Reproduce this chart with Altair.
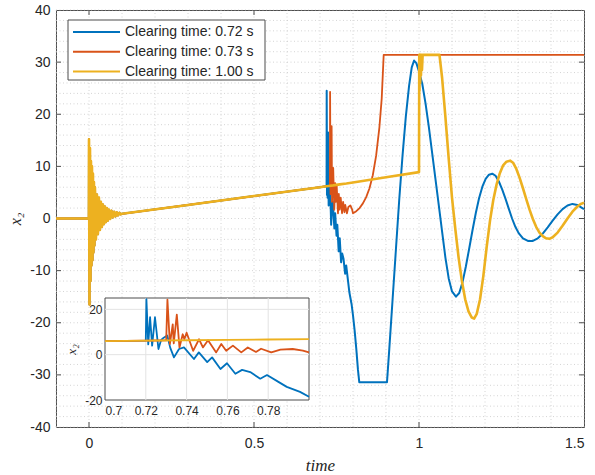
import altair as alt
import pandas as pd

# ---------------- data ----------------
labels = ["Clearing time: 0.72 s", "Clearing time: 0.73 s", "Clearing time: 1.00 s"]
colors = ["#0072BD", "#D95319", "#EDB120"]

# shared trajectory (pre-fault + fault-on), until 0.72 s
t_common = [-0.1, -0.05, -0.0005,
            0.000, 0.0015, 0.003, 0.0045, 0.006, 0.0075, 0.009, 0.0105, 0.012,
            0.0135, 0.015, 0.0165, 0.018, 0.021, 0.024, 0.027, 0.030, 0.033,
            0.036, 0.039, 0.042, 0.045, 0.048, 0.051, 0.054, 0.057, 0.060,
            0.064, 0.068, 0.072, 0.076, 0.080, 0.084, 0.088, 0.092, 0.096,
            0.1, 0.3, 0.5, 0.7, 0.72]
v_common = [0.0, 0.0, 0.0,
            15.2, -16.5, 13.5, -12.0, 11.0, -9.0, 10.0, -8.0, 8.6,
            -6.5, 7.0, -5.2, 6.0, -4.0, 4.6, -3.0, 4.0, -2.2,
            3.2, -1.6, 2.7, -1.1, 2.3, -0.7, 2.0, -0.4, 1.7,
            -0.1, 1.5, 0.2, 1.3, 0.4, 1.2, 0.6, 1.1, 0.8,
            0.9, 2.6, 4.3, 6.0, 6.2]

# clearing at 0.72 s
t_blue = [0.7203, 0.7212, 0.7221, 0.7231, 0.7245, 0.7262, 0.7275, 0.7288, 0.7305,
          0.7320, 0.7338, 0.7363, 0.7387, 0.7436, 0.7460, 0.7501, 0.7525, 0.7566,
          0.7598, 0.7639, 0.7672, 0.7712, 0.7761, 0.7794, 0.7850, 0.7891, 0.7956,
          0.8000, 0.805, 0.810, 0.815, 0.819, 0.903, 0.91, 0.92, 0.93, 0.94, 0.95,
          0.96, 0.97, 0.978, 0.985, 0.992, 1.0, 1.01, 1.02, 1.03, 1.04, 1.05, 1.06,
          1.07, 1.08, 1.09, 1.10, 1.112, 1.122, 1.132, 1.142, 1.152, 1.162, 1.172,
          1.182, 1.192, 1.202, 1.212, 1.222, 1.232, 1.242, 1.252, 1.262, 1.272,
          1.282, 1.292, 1.302, 1.315, 1.33, 1.345, 1.36, 1.375, 1.39, 1.405, 1.42,
          1.435, 1.45, 1.465, 1.48, 1.49, 1.5]
v_blue = [24.5, 4.5, 16.5, 4.0, 16.5, 2.5, 6.5, 7.5, 8.5,
          3.0, -1.2, 2.5, 3.2, -1.9, 1.0, -3.3, -1.2, -6.3,
          -3.8, -8.4, -6.7, -7.7, -10.6, -9.0, -12.0, -14.2, -16.4,
          -18.6, -21.5, -25.0, -29.0, -31.4, -31.4, -25.0, -15.5, -6.0, 3.5, 12.0,
          19.5, 25.5, 29.0, 30.3, 29.8, 28.2, 25.8, 22.0, 17.5, 12.5, 7.5, 2.5,
          -2.5, -7.5, -11.5, -14.0, -15.0, -14.3, -12.2, -9.2, -5.8, -2.3, 1.0,
          3.9, 6.1, 7.6, 8.4, 8.6, 8.2, 7.1, 5.6, 3.8, 1.9,
          0.0, -1.6, -2.8, -3.8, -4.3, -4.3, -3.8, -2.9, -1.7, -0.4, 0.8,
          1.8, 2.5, 2.8, 2.6, 2.2, 1.8]

# clearing at 0.73 s
t_red = [0.725, 0.7300, 0.7306, 0.7318, 0.7332, 0.7337, 0.7352, 0.7365, 0.7381,
         0.7389, 0.7400, 0.7432, 0.7461, 0.7480, 0.7505, 0.7545, 0.7570, 0.7594,
         0.7627, 0.7668, 0.7700, 0.7740, 0.7765, 0.7815, 0.7860, 0.7920, 0.7970,
         0.8000, 0.81, 0.82, 0.83, 0.84, 0.85, 0.86, 0.87, 0.88, 0.887, 0.893, 1.5]
v_red = [6.25, 6.3, 24.3, 4.7, 13.4, 5.0, 17.7, 3.2, 9.0,
         6.8, 9.7, 1.7, 6.8, 3.2, 6.4, 1.0, 4.7, 1.7,
         4.0, 1.0, 3.2, 1.2, 2.6, 1.0, 2.2, 2.5, 1.8,
         1.0, 1.4, 2.0, 2.9, 4.1, 5.8, 8.3, 12.0, 17.5, 23.0, 31.4, 31.4]

# clearing at 1.00 s
t_yel = [0.74, 0.76, 0.78, 0.80, 0.9, 1.0, 1.0008, 1.0015, 1.0025, 1.0035, 1.0045,
         1.006, 1.0075, 1.009, 1.011, 1.062, 1.07, 1.08, 1.09, 1.10, 1.11, 1.12,
         1.13, 1.14, 1.15, 1.16, 1.167, 1.175, 1.185, 1.195, 1.205, 1.215, 1.225,
         1.235, 1.245, 1.255, 1.265, 1.276, 1.285, 1.295, 1.305, 1.315, 1.325,
         1.335, 1.345, 1.355, 1.365, 1.375, 1.385, 1.395, 1.405, 1.42, 1.435,
         1.45, 1.465, 1.48, 1.49, 1.5]
v_yel = [6.35, 6.55, 6.7, 6.9, 7.9, 8.9, 31.4, 24.5, 31.4, 26.0, 31.4,
         27.5, 31.4, 28.5, 31.4, 31.4, 27.0, 19.5, 11.5, 4.0, -2.0, -7.5,
         -12.0, -15.5, -17.8, -19.0, -19.2, -18.3, -15.5, -11.0, -5.5, -0.5, 3.5,
         6.5, 8.7, 10.2, 10.9, 11.1, 10.7, 9.5, 7.8, 5.8, 3.7,
         1.7, -0.1, -1.6, -2.7, -3.4, -3.8, -3.9, -3.6, -2.7, -1.4,
         0.0, 1.3, 2.3, 2.8, 3.0]

x_ticks = [0, 0.5, 1, 1.5]
y_ticks = [-40, -30, -20, -10, 0, 10, 20, 30, 40]
x_minor = [round(-0.1 + 0.1 * i, 2) for i in range(17)]
y_minor = [-40 + 2 * i for i in range(41)]
x_dom = [-0.1, 1.5]
y_dom = [-40, 40]

in_x_ticks = [0.7, 0.72, 0.74, 0.76, 0.78]
in_y_ticks = [-20, 0, 20]
in_x_dom = [0.7, 0.8]
in_y_dom = [-20, 25]

# ---------------- layout ----------------
W, H = 528, 417
PAD_L, PAD_T = 56, 10
IN_L, IN_R, IN_T, IN_B = 105 - PAD_L, 309 - PAD_L, 298 - PAD_T, 400 - PAD_T
FONT = "Liberation Sans"
SERIF = "Liberation Serif"
TXT = "#262626"


def series_df(ts, vs):
    return pd.DataFrame({"t": ts, "v": vs, "i": range(len(ts))})


df_blue = series_df(t_common + t_blue, v_common + v_blue)
df_red = series_df(t_common + t_red, v_common + v_red)
df_yel = series_df(t_common + t_yel, v_common + v_yel)

xs = alt.Scale(domain=x_dom, nice=False, zero=False)
ys = alt.Scale(domain=y_dom, nice=False, zero=False)
x_axis = alt.Axis(values=x_ticks, labelExpr="'' + datum.value", ticks=False, domain=False,
                  grid=False, labelFontSize=14, labelFont=FONT, labelColor=TXT,
                  labelPadding=9, title="time", titleFont=SERIF, titleFontStyle="italic",
                  titleFontWeight="normal", titleFontSize=17, titleColor=TXT, titlePadding=7)
y_axis = alt.Axis(values=y_ticks, labelExpr="'' + datum.value", ticks=False, domain=False,
                  grid=False, labelFontSize=14, labelFont=FONT, labelColor=TXT,
                  labelPadding=6, title="x₂", titleFont=SERIF, titleFontStyle="italic",
                  titleFontWeight="normal", titleFontSize=16, titleColor=TXT, titlePadding=6)
X = alt.X("t:Q", scale=xs, axis=x_axis)
Y = alt.Y("v:Q", scale=ys, axis=y_axis)

grid_style = dict(color="#c9c9c9", strokeWidth=0.8, strokeDash=[1, 2.5])
gx = alt.Chart(pd.DataFrame({"t": x_minor})).mark_rule(**grid_style).encode(
    x=X, y=alt.datum(y_dom[0]), y2=alt.datum(y_dom[1]))
gy = alt.Chart(pd.DataFrame({"v": y_minor})).mark_rule(**grid_style).encode(
    y=Y, x=alt.datum(x_dom[0]), x2=alt.datum(x_dom[1]))

tick_style = dict(color="#4d4d4d", strokeWidth=1)
tx_df = pd.DataFrame({"t": x_ticks[:-1]})
ty_df = pd.DataFrame({"v": y_ticks[1:-1]})
tb = alt.Chart(tx_df).mark_rule(**tick_style).encode(x=X, y=alt.value(H), y2=alt.value(H - 5))
tt = alt.Chart(tx_df).mark_rule(**tick_style).encode(x=X, y=alt.value(0), y2=alt.value(5))
tl = alt.Chart(ty_df).mark_rule(**tick_style).encode(y=Y, x=alt.value(0), x2=alt.value(5))
tr = alt.Chart(ty_df).mark_rule(**tick_style).encode(y=Y, x=alt.value(W), x2=alt.value(W - 5))


def line(df, color, sw, x, y):
    return alt.Chart(df).mark_line(color=color, strokeWidth=sw, strokeJoin="round").encode(
        x=x, y=y, order="i:Q")


main = alt.layer(
    gx, gy, tb, tt, tl, tr,
    line(df_blue, colors[0], 2.0, X, Y),
    line(df_red, colors[1], 1.8, X, Y),
    line(df_yel, colors[2], 2.6, X, Y),
)

# ---------------- inset ----------------
xs_in = alt.Scale(domain=in_x_dom, range=[IN_L, IN_R], nice=False, zero=False)
ys_in = alt.Scale(domain=in_y_dom, range=[IN_B, IN_T], nice=False, zero=False)
xin_axis = alt.Axis(orient="bottom", offset=-(H - IN_B), values=in_x_ticks,
                    labelExpr="'' + datum.value", ticks=False, domain=False, grid=False,
                    labelFontSize=12, labelFont=FONT, labelColor=TXT, labelPadding=5, title=None)
yin_axis = alt.Axis(orient="left", offset=-IN_L, values=in_y_ticks,
                    labelExpr="'' + datum.value", ticks=False, domain=False, grid=False,
                    labelFontSize=12, labelFont=FONT, labelColor=TXT, labelPadding=3,
                    title="x₂", titleFont=SERIF, titleFontStyle="italic",
                    titleFontWeight="normal", titleFontSize=13, titleColor=TXT, titlePadding=6)
XI = alt.X("t:Q", scale=xs_in, axis=xin_axis)
YI = alt.Y("v:Q", scale=ys_in, axis=yin_axis)


def cut(df):
    return df[(df.t >= in_x_dom[0]) & (df.t <= in_x_dom[1])].copy()


bg = alt.Chart(pd.DataFrame({"t": [in_x_dom[0]], "t2": [in_x_dom[1]],
                             "v": [in_y_dom[0]], "v2": [in_y_dom[1]]})).mark_rect(
    fill="white", stroke="#4d4d4d", strokeWidth=1).encode(x=XI, x2="t2:Q", y=YI, y2="v2:Q")
igrid_style = dict(color="#e3e3e3", strokeWidth=1)
igx = alt.Chart(pd.DataFrame({"t": in_x_ticks[1:]})).mark_rule(**igrid_style).encode(
    x=XI, y=alt.datum(in_y_dom[0]), y2=alt.datum(in_y_dom[1]))
igy = alt.Chart(pd.DataFrame({"v": in_y_ticks[1:]})).mark_rule(**igrid_style).encode(
    y=YI, x=alt.datum(in_x_dom[0]), x2=alt.datum(in_x_dom[1]))

inset = alt.layer(
    bg, igx, igy,
    line(cut(df_blue), colors[0], 1.8, XI, YI),
    line(cut(df_red), colors[1], 1.8, XI, YI),
    line(cut(df_yel), colors[2], 1.8, XI, YI),
)

# ---------------- legend ----------------
leg_df = pd.DataFrame({"label": labels})
LY = alt.Y("label:N", scale=alt.Scale(type="point", domain=labels, range=[22, 61.5], padding=0),
           axis=None)
LC = alt.Color("label:N", scale=alt.Scale(domain=labels, range=colors), legend=None)
leg_box = alt.Chart(alt.Data(values=[{"a": 1}])).mark_rect(
    fill="white", stroke="#4d4d4d", strokeWidth=1).encode(
    x=alt.value(12), x2=alt.value(209), y=alt.value(10), y2=alt.value(70))
leg_lines = alt.Chart(leg_df).mark_rule(strokeWidth=2).encode(
    x=alt.value(17), x2=alt.value(64), y=LY, color=LC)
leg_text = alt.Chart(leg_df).mark_text(align="left", baseline="middle", font=FONT,
                                       fontSize=14, color=TXT).encode(
    x=alt.value(69), y=LY, text="label:N")
legend = alt.layer(leg_box, leg_lines, leg_text)

chart = alt.layer(main, inset, legend).resolve_scale(
    x="independent", y="independent", color="independent"
).properties(
    width=W, height=H, autosize="none",
    padding={"left": PAD_L, "top": PAD_T, "right": 595 - PAD_L - W, "bottom": 475 - PAD_T - H},
    background="white",
).configure_view(stroke="#4d4d4d", strokeWidth=1)

chart.save("out.html", embed_options={"renderer": "svg", "actions": False})
